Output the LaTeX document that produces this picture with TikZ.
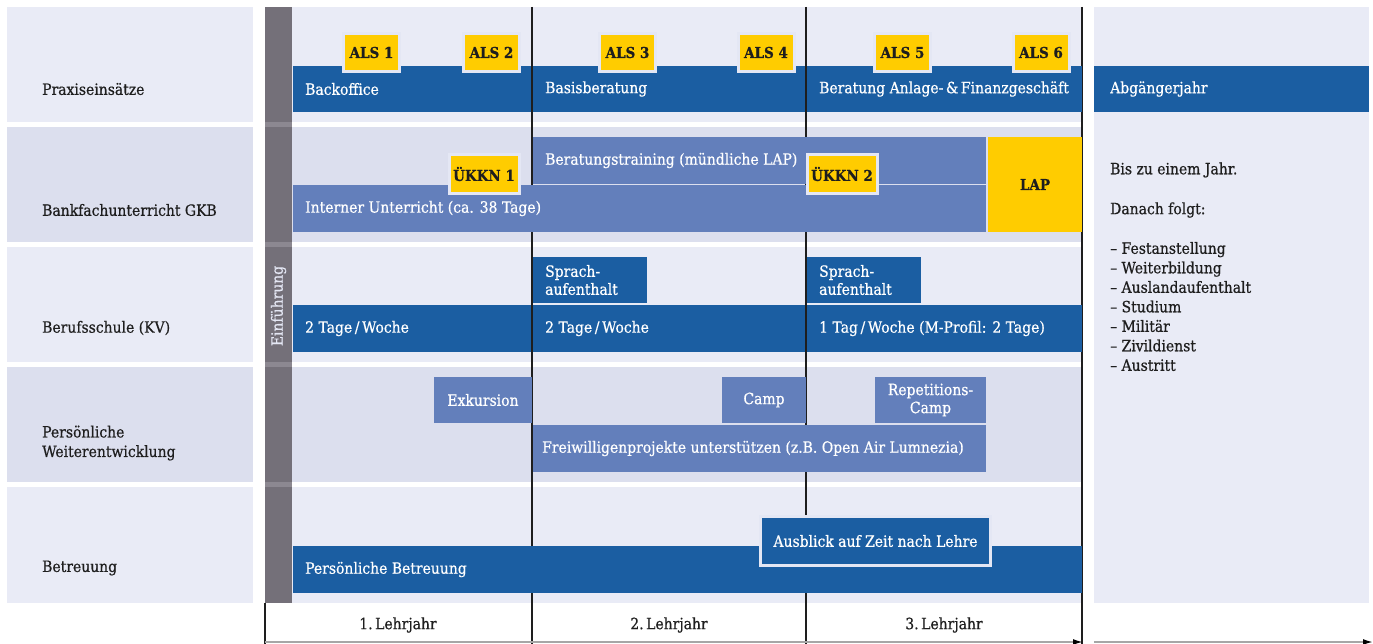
\documentclass[tikz,border=0pt]{standalone}
\usepackage{fontspec}
\setmainfont{DejaVu Serif}[FakeStretch=0.9, FakeBold=0.6]
\usetikzlibrary{arrows.meta}
\definecolor{dblue}{HTML}{1B5EA2}
\definecolor{mblue}{HTML}{637FBB}
\definecolor{yel}{HTML}{FFCC00}
\definecolor{rowA}{HTML}{E9EBF6}
\definecolor{rowB}{HTML}{DCDFEE}
\definecolor{gbar}{HTML}{747079}
\definecolor{gsep}{HTML}{8C8891}
\definecolor{rim}{HTML}{E4E7F4}
\definecolor{ink}{HTML}{1E1E1E}
\begin{document}
\begin{tikzpicture}[x=1pt,y=-1pt,
  every node/.style={font=\fontsize{15.5}{19.5}\selectfont},
  box/.style={rectangle, anchor=north west, inner sep=0pt, outer sep=0pt},
  dbar/.style={box, fill=dblue},
  mbar/.style={box, fill=mblue},
  bgA/.style={box, fill=rowA},
  bgB/.style={box, fill=rowB},
  wtext/.style={text=white, anchor=west, align=left, inner sep=0pt},
  ctext/.style={text=white, align=center, inner sep=0pt},
  ltext/.style={text=ink, anchor=west, align=left, inner sep=0pt},
  tag/.style={rectangle, fill=yel, draw=rim, line width=3pt, inner sep=0pt, font=\fontsize{15}{17}\selectfont\bfseries, text=ink},
  yline/.style={draw=ink, line width=1.1pt},
  axis/.style={draw=gray!70, line width=1.6pt, -{Latex[black,length=10pt,width=6pt]}}
]
\useasboundingbox[fill=white] (0,0) rectangle (1373,644);

% label column backgrounds
\node[bgA, minimum width=246, minimum height=115] (lb1) at (7,7) {};
\node[bgB, minimum width=246, minimum height=115] (lb2) at (7,127) {};
\node[bgA, minimum width=246, minimum height=115] (lb3) at (7,247) {};
\node[bgB, minimum width=246, minimum height=115] (lb4) at (7,367) {};
\node[bgA, minimum width=246, minimum height=116] (lb5) at (7,487) {};

% chart row backgrounds
\node[bgA, minimum width=790, minimum height=115] (cb1) at (292,7) {};
\node[bgB, minimum width=790, minimum height=115] (cb2) at (292,127) {};
\node[bgA, minimum width=790, minimum height=115] (cb3) at (292,247) {};
\node[bgB, minimum width=790, minimum height=115] (cb4) at (292,367) {};
\node[bgA, minimum width=790, minimum height=116] (cb5) at (292,487) {};

% right panel
\node[bgA, minimum width=275, minimum height=596] (rpbg) at (1094,7) {};

% Einfuehrung bar
\node[box, fill=gbar, minimum width=27, minimum height=596] (einbar) at (265,7) {};
\node[box, fill=gsep, minimum width=27, minimum height=5] (es1) at (265,122) {};
\node[box, fill=gsep, minimum width=27, minimum height=5] (es2) at (265,242) {};
\node[box, fill=gsep, minimum width=27, minimum height=5] (es3) at (265,362) {};
\node[box, fill=gsep, minimum width=27, minimum height=5] (es4) at (265,482) {};
\node[rotate=90, text=rim, inner sep=0pt] (ein) at (278.5,306) {Einführung};

% year lines
\coordinate (v0t) at (265,603); \coordinate (v0b) at (265,644);
\coordinate (v1t) at (532,7);   \coordinate (v1b) at (532,644);
\coordinate (v2t) at (806,7);   \coordinate (v2b) at (806,644);
\coordinate (v3t) at (1082,7);  \coordinate (v3b) at (1082,644);
\draw[yline] (v0t) -- (v0b);
\draw[yline] (v1t) -- (v1b);
\draw[yline] (v2t) -- (v2b);
\draw[yline] (v3t) -- (v3b);

% axis
\coordinate (ax0) at (265,642); \coordinate (ax1) at (1083,642);
\coordinate (ax2) at (1094,642); \coordinate (ax3) at (1373,642);
\draw[axis] (ax0) -- (ax1);
\draw[axis] (ax2) -- (ax3);

% Row 1: Praxiseinsaetze
\node[dbar, minimum width=238, minimum height=46] (bo) at (293,66) {};
\node[dbar, minimum width=272, minimum height=46] (bb) at (533,66) {};
\node[dbar, minimum width=275, minimum height=46] (ba) at (807,66) {};
\node[dbar, minimum width=275, minimum height=46] (ab) at (1094,66) {};
\node[wtext] (tbo) at ([xshift=12pt]bo.west) {Backoffice};
\node[wtext] (tbb) at ([xshift=12pt]bb.west) {Basisberatung};
\node[wtext] (tba) at ([xshift=12pt]ba.west) {Beratung Anlage-\,\&\,Finanzgeschäft};
\node[wtext] (tab) at ([xshift=16pt]ab.west) {Abgängerjahr};
\node[tag, minimum width=56, minimum height=38] (als1) at (371.5,52.5) {ALS 1};
\node[tag, minimum width=56, minimum height=38] (als2) at (491.5,52.5) {ALS 2};
\node[tag, minimum width=56, minimum height=38] (als3) at (627.5,52.5) {ALS 3};
\node[tag, minimum width=56, minimum height=38] (als4) at (766,52.5) {ALS 4};
\node[tag, minimum width=56, minimum height=38] (als5) at (902.5,52.5) {ALS 5};
\node[tag, minimum width=56, minimum height=38] (als6) at (1041,52.5) {ALS 6};

% Row 2: Bankfachunterricht
\node[mbar, minimum width=453, minimum height=47] (bt) at (533,137) {};
\node[mbar, minimum width=693, minimum height=47] (iu) at (293,185) {};
\node[box, fill=yel, minimum width=94, minimum height=95] (lap) at (988,137) {};
\node[font=\fontsize{15}{17}\selectfont\bfseries, text=ink] (tlap) at (lap.center) {LAP};
\node[wtext] (tbt) at ([xshift=12pt]bt.west) {Beratungstraining (mündliche LAP)};
\node[wtext] (tiu) at ([xshift=12pt]iu.west) {Interner Unterricht (ca. 38 Tage)};
\node[tag, minimum width=70, minimum height=39] (uk1) at (484,174) {ÜKKN 1};
\node[tag, minimum width=70, minimum height=39] (uk2) at (842,174) {ÜKKN 2};

% Row 3: Berufsschule
\node[dbar, minimum width=114, minimum height=46] (sa1) at (533,257) {};
\node[dbar, minimum width=114, minimum height=46] (sa2) at (807,257) {};
\node[wtext, font=\fontsize{15.5}{18}\selectfont] (tsa1) at ([xshift=12pt]sa1.west) {Sprach-\\aufenthalt};
\node[wtext, font=\fontsize{15.5}{18}\selectfont] (tsa2) at ([xshift=12pt]sa2.west) {Sprach-\\aufenthalt};
\node[dbar, minimum width=238, minimum height=47] (bs1) at (293,305) {};
\node[dbar, minimum width=272, minimum height=47] (bs2) at (533,305) {};
\node[dbar, minimum width=275, minimum height=47] (bs3) at (807,305) {};
\node[wtext] (tbs1) at ([xshift=12pt]bs1.west) {2 Tage\,/\,Woche};
\node[wtext] (tbs2) at ([xshift=12pt]bs2.west) {2 Tage\,/\,Woche};
\node[wtext] (tbs3) at ([xshift=12pt]bs3.west) {1 Tag\,/\,Woche (M-Profil: 2 Tage)};

% Row 4: Persoenliche Weiterentwicklung
\node[mbar, minimum width=98, minimum height=46] (ex) at (434,377) {};
\node[mbar, minimum width=84, minimum height=46] (cp) at (722,377) {};
\node[mbar, minimum width=111, minimum height=46] (rc) at (875,377) {};
\node[mbar, minimum width=453, minimum height=47] (fw) at (533,425) {};
\node[ctext] (tex) at (ex.center) {Exkursion};
\node[ctext] (tcp) at (cp.center) {Camp};
\node[ctext, font=\fontsize{15.5}{18}\selectfont] (trc) at (rc.center) {Repetitions-\\Camp};
\node[wtext] (tfw) at ([xshift=9pt]fw.west) {Freiwilligenprojekte unterstützen (z.B. Open Air Lumnezia)};

% Row 5: Betreuung
\node[dbar, minimum width=789, minimum height=47] (pb) at (293,546) {};
\node[wtext] (tpb) at ([xshift=12pt]pb.west) {Persönliche Betreuung};
\node[rectangle, fill=dblue, draw=rim, line width=3pt, inner sep=0pt, minimum width=230, minimum height=49, text=white] (aus) at (875.5,541) {Ausblick auf Zeit nach Lehre};

% left labels
\node[ltext] (l1) at (42,89) {Praxiseinsätze};
\node[ltext] (l2) at (42,210) {Bankfachunterricht GKB};
\node[ltext] (l3) at (42,328) {Berufsschule (KV)};
\node[ltext] (l4) at (42,443) {Persönliche\\Weiterentwicklung};
\node[ltext] (l5) at (42,568) {Betreuung};

% right panel text
\node[ltext] (rp1) at (1110,170) {Bis zu einem Jahr.};
\node[ltext] (rp2) at (1110,210) {Danach folgt:};
\node[ltext] (rp3) at (1110,306.5) {– Festanstellung\\– Weiterbildung\\– Auslandaufenthalt\\– Studium\\– Militär\\– Zivildienst\\– Austritt};

% year labels
\node[text=ink, inner sep=0pt] (y1) at (398,625) {1.\,Lehrjahr};
\node[text=ink, inner sep=0pt] (y2) at (669,625) {2.\,Lehrjahr};
\node[text=ink, inner sep=0pt] (y3) at (944,625) {3.\,Lehrjahr};
\end{tikzpicture}
\end{document}
